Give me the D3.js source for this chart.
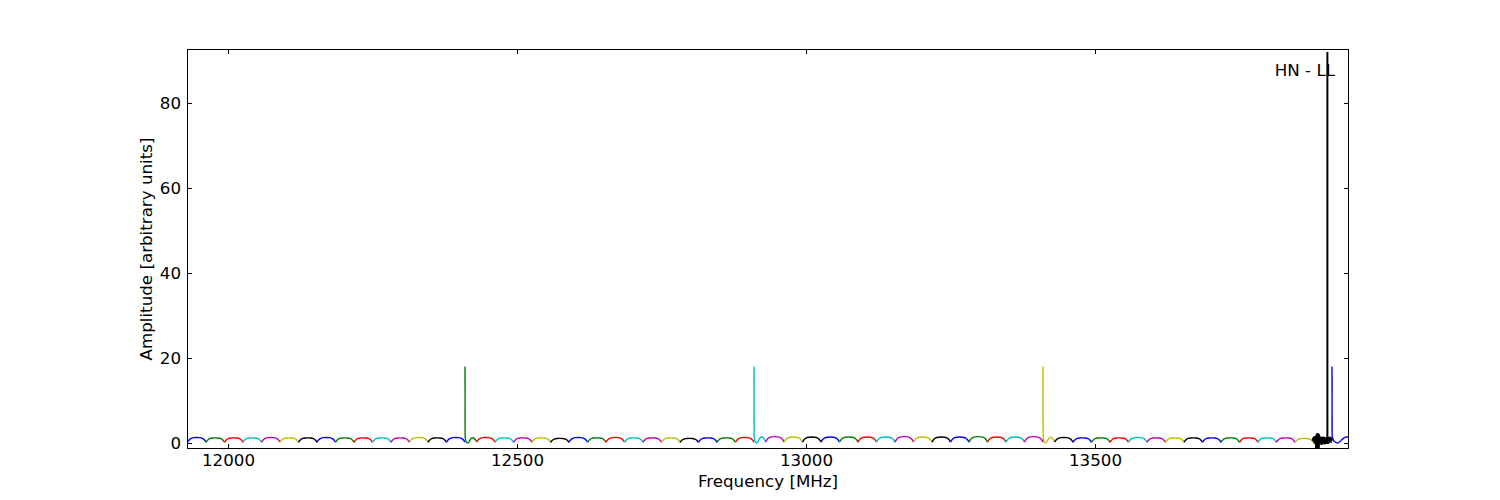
<!DOCTYPE html>
<html><head><meta charset="utf-8">
<script src="https://cdn.jsdelivr.net/npm/d3@7/dist/d3.min.js"></script>
<style>
html,body{margin:0;padding:0;background:#fff;}
text{font-family:"DejaVu Sans",sans-serif;}
</style></head>
<body><svg id="chart" width="1500" height="500"></svg>
<script>
// ---- data ----
const xTicks = [12000, 12500, 13000, 13500];
const yTicks = [0, 20, 40, 60, 80];
const xDomain = [11929, 13939.4];
const yDomain = [-1.41, 92.7];
const blockStarts = [11910, 12410, 12910, 13410, 13910];   // MHz, each 500 MHz sub-band
const firstSegWidths = [20, 20, 20, 20, 40];              // MHz, leading channel of each band
const segWidth = 32;                                       // MHz per channel
const segsPerBlock = [16, 16, 16, 16, 1];
const bandSpikeHeights = [1.5, 18, 18, 18, 18];            // spike at start of each band
// channel bandpass shape (fraction across channel -> relative amplitude)
const shapeFrac = [0, 0.08, 0.2, 0.35, 0.5, 0.65, 0.8, 0.92, 1];
const shapeAmp  = [0.15, 0.55, 0.85, 0.97, 1.0, 0.97, 0.85, 0.55, 0.15];
// leading (DC-spike) channel shape
const firstFrac = [0, 0.08, 0.25, 0.45, 0.6, 0.75, 0.9, 1];
const firstAmp  = [1.1, 0.3, 0.0, 0.6, 0.95, 0.9, 0.55, 0.2];
// peak level of every channel, left to right
const segLevels = [
  1.0, 1.3, 1.2, 1.2, 1.2, 1.3, 1.2, 1.2, 1.3, 1.2, 1.2, 1.2, 1.2, 1.3, 1.2, 1.3,
  1.3, 1.3, 1.2, 1.2, 1.2, 1.1, 1.3, 1.2, 1.3, 1.2, 1.2, 1.2, 1.1, 1.2, 1.2, 1.3,
  1.5, 1.5, 1.4, 1.4, 1.4, 1.4, 1.4, 1.4, 1.5, 1.4, 1.4, 1.4, 1.5, 1.4, 1.4, 1.5,
  1.4, 1.3, 1.2, 1.2, 1.2, 1.3, 1.2, 1.2, 1.2, 1.2, 1.2, 1.2, 1.2, 1.2, 1.1, 0.6,
  1.5
];
const colorCycle = ["#0000ff", "#008000", "#ff0000", "#00bfbf", "#bf00bf", "#bfbf00", "#000000"];
const colorOffset = 6;
// RFI burst in the last channel
const burstFreq = [13878, 13880, 13882, 13884, 13885, 13885.3, 13887, 13889, 13892, 13895, 13898, 13901, 13903, 13906, 13909];
const burstAmp  = [0.4, 1.1, 0.2, 1.2, -2.5, 1.8, 0.2, 1.1, 0.1, 1.0, 0.2, 0.9, 0.3, 1.0, 0.4];
const bigSpikeFreq = 13902;
const bigSpikeAmp = 92;
const label = "HN - LL";
const xLabel = "Frequency [MHz]";
const yLabel = "Amplitude [arbitrary units]";

// ---- layout ----
const L = 187, R = 1349, T = 49, B = 449;
const svg = d3.select("#chart");
const x = d3.scaleLinear().domain(xDomain).range([L, R]);
const y = d3.scaleLinear().domain(yDomain).range([B, T]);

svg.append("defs").append("clipPath").attr("id", "clip")
  .append("rect").attr("x", L).attr("y", T).attr("width", R - L).attr("height", B - T);

const plot = svg.append("g").attr("clip-path", "url(#clip)");
const line = d3.line().x(d => x(d[0])).y(d => y(d[1]));
const curve = d3.line().x(d => x(d[0])).y(d => y(d[1])).curve(d3.curveMonotoneX);

let g = 0;
blockStarts.forEach((S, b) => {
  let start = S;
  for (let i = 0; i < segsPerBlock[b]; i++, g++) {
    const w = i === 0 ? firstSegWidths[b] : segWidth;
    const lvl = segLevels[g];
    const col = colorCycle[(g + colorOffset) % colorCycle.length];
    let pts;
    if (i === 0) {
      pts = firstFrac.map((f, k) => [start + f * w + (k === 0 ? 0.2 : 0), firstAmp[k] * lvl]);
      plot.append("path").attr("d", line([[start, bandSpikeHeights[b]], pts[0]]))
        .attr("fill", "none").attr("stroke", col).attr("stroke-width", 1.4);
    } else {
      pts = shapeFrac.map((f, k) => [start + f * w, shapeAmp[k] * lvl]);
    }
    plot.append("path").attr("d", curve(pts))
      .attr("fill", "none").attr("stroke", col).attr("stroke-width", 1.4);
    start += w;
  }
});

// RFI burst
plot.append("path").attr("d", line(burstFreq.map((f, k) => [f, burstAmp[k]])))
  .attr("fill", "none").attr("stroke", "#000").attr("stroke-width", 4.5).attr("stroke-linejoin", "round");
plot.append("path").attr("d", line([[bigSpikeFreq, 0.5], [bigSpikeFreq, bigSpikeAmp]]))
  .attr("fill", "none").attr("stroke", "#000").attr("stroke-width", 2);

// ---- axes ----
const fs = 16.7;
const ax = svg.append("g").attr("transform", `translate(0,${B})`)
  .call(d3.axisBottom(x).tickValues(xTicks).tickSizeInner(-5).tickSizeOuter(0).tickPadding(5).tickFormat(d3.format("d")));
const axTop = svg.append("g").attr("transform", `translate(0,${T})`)
  .call(d3.axisTop(x).tickValues(xTicks).tickSizeInner(-5).tickSizeOuter(0).tickFormat(""));
const ay = svg.append("g").attr("transform", `translate(${L},0)`)
  .call(d3.axisLeft(y).tickValues(yTicks).tickSizeInner(-5).tickSizeOuter(0).tickPadding(6).tickFormat(d3.format("d")));
const ayR = svg.append("g").attr("transform", `translate(${R},0)`)
  .call(d3.axisRight(y).tickValues(yTicks).tickSizeInner(-5).tickSizeOuter(0).tickFormat(""));
[ax, axTop, ay, ayR].forEach(a => {
  a.select(".domain").remove();
  a.selectAll("line").attr("stroke", "#000").attr("stroke-width", 1);
  a.selectAll("text").attr("font-family", "DejaVu Sans").attr("font-size", fs).attr("fill", "#000");
});

svg.append("rect").attr("x", L + 0.5).attr("y", T + 0.5).attr("width", R - L - 1).attr("height", B - T - 1)
  .attr("fill", "none").attr("stroke", "#000").attr("stroke-width", 1);

svg.append("text").attr("x", (L + R) / 2).attr("y", 487).attr("text-anchor", "middle")
  .attr("font-size", fs).text(xLabel);
svg.append("text").attr("transform", `translate(152,${(T + B) / 2}) rotate(-90)`).attr("text-anchor", "middle")
  .attr("font-size", fs).text(yLabel);
svg.append("text").attr("x", 1335).attr("y", 76).attr("text-anchor", "end")
  .attr("font-size", fs).text(label);
</script></body></html>
